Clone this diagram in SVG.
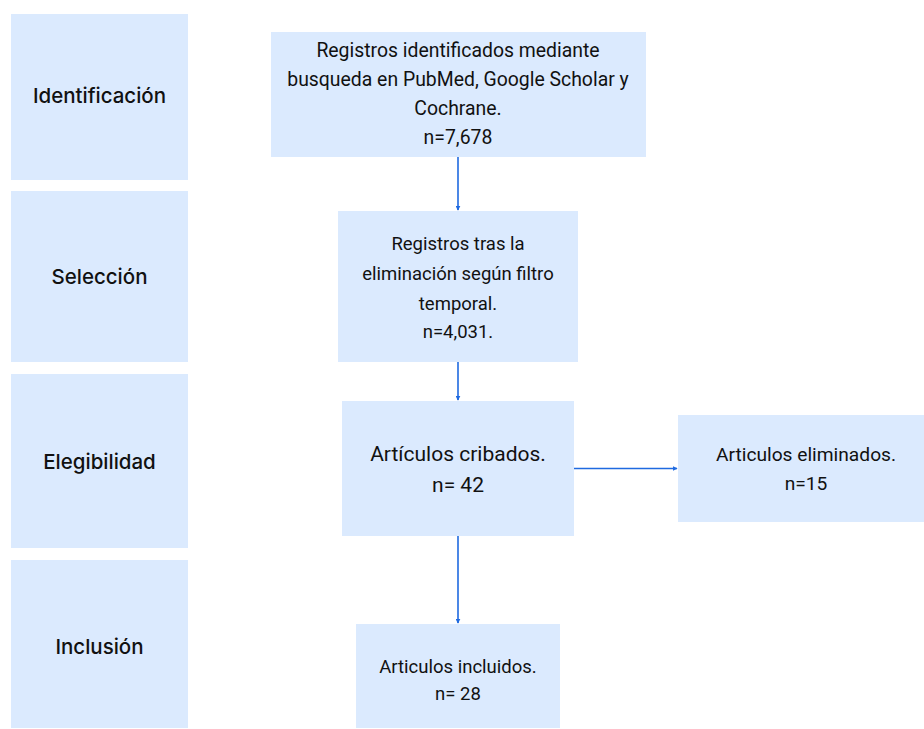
<svg xmlns="http://www.w3.org/2000/svg" width="924" height="729" viewBox="0 0 924 729">
<style>
.stage{fill:#dbeafe}
.box{fill:#dbeafe}
.lbl{font-family:Inter,"Noto Sans",sans-serif;font-size:20.5px;font-weight:500;fill:#111;text-anchor:middle}
.t{font-family:Roboto,"Liberation Sans",sans-serif;font-size:18.5px;fill:#111;text-anchor:middle}
.t1{font-size:19.4px}
.t4{font-size:19.2px}
.t2{font-family:Roboto,"Liberation Sans",sans-serif;font-size:21px;fill:#111;text-anchor:middle}
.con{stroke:#1f6ae0;stroke-width:1.6;fill:none;marker-end:url(#ah)}
</style>
<defs>
<marker id="ah" viewBox="0 0 8 8" refX="7" refY="4" markerWidth="5" markerHeight="5" orient="auto" markerUnits="userSpaceOnUse">
<path d="M0,0 L8,4 L0,8 Z" fill="#1f6ae0"/>
</marker>
</defs>
<rect width="924" height="729" fill="#fff"/>
<g id="stage-identificacion"><rect class="stage" x="11" y="14" width="177" height="166"/><text class="lbl" x="99.5" y="103">Identificación</text></g>
<g id="stage-seleccion"><rect class="stage" x="11" y="191" width="177" height="171"/><text class="lbl" x="99.5" y="284">Selección</text></g>
<g id="stage-elegibilidad"><rect class="stage" x="11" y="374" width="177" height="174"/><text class="lbl" x="99.5" y="469">Elegibilidad</text></g>
<g id="stage-inclusion"><rect class="stage" x="11" y="560" width="177" height="168"/><text class="lbl" x="99.5" y="654">Inclusión</text></g>
<g id="n1"><rect class="box" x="271" y="32" width="375" height="125"/>
<text class="t t1" x="458" y="57">Registros identificados mediante</text>
<text class="t t1" x="458" y="86">busqueda en PubMed, Google Scholar y</text>
<text class="t t1" x="458" y="115">Cochrane.</text>
<text class="t t1" x="458" y="144">n=7,678</text></g>
<g id="n2"><rect class="box" x="338" y="211" width="240" height="151"/>
<text class="t" x="458" y="250">Registros tras la</text>
<text class="t" x="458" y="280">eliminación según filtro</text>
<text class="t" x="458" y="310">temporal.</text>
<text class="t" x="458" y="338">n=4,031.</text></g>
<g id="n3"><rect class="box" x="342" y="401" width="232" height="135"/>
<text class="t2" x="458" y="461">Artículos cribados.</text>
<text class="t2" x="458" y="492">n= 42</text></g>
<g id="n4"><rect class="box" x="678" y="415" width="246" height="107"/>
<text class="t t4" x="806" y="461">Articulos eliminados.</text>
<text class="t t4" x="806" y="490">n=15</text></g>
<g id="n5"><rect class="box" x="356" y="624" width="204" height="104"/>
<text class="t" x="458" y="673">Articulos incluidos.</text>
<text class="t" x="458" y="700">n= 28</text></g>
<g id="connectors">
<line class="con" x1="458" y1="157" x2="458" y2="210"/>
<line class="con" x1="458" y1="362" x2="458" y2="400"/>
<line class="con" x1="574" y1="468.5" x2="677" y2="468.5"/>
<line class="con" x1="458" y1="536" x2="458" y2="623"/>
</g>
</svg>
